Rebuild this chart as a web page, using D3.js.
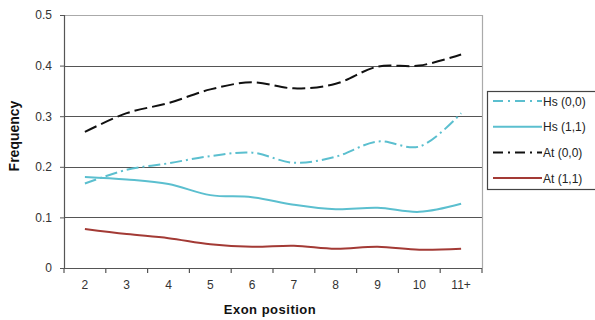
<!DOCTYPE html>
<html><head><meta charset="utf-8">
<script src="https://cdn.jsdelivr.net/npm/d3@7"></script>
<style>body{margin:0;background:#fff;}svg{display:block;font-family:"Liberation Sans",Arial,sans-serif;}</style>
</head><body><svg id="c" width="595" height="320"></svg>
<script>
const categories = ["2","3","4","5","6","7","8","9","10","11+"];
const yTicks = [0, 0.1, 0.2, 0.3, 0.4, 0.5];
const yTickLabels = ["0","0.1","0.2","0.3","0.4","0.5"];
const seriesNames = ["Hs (0,0)","Hs (1,1)","At (0,0)","At (1,1)"];
const hs00 = [0.167,0.194,0.207,0.221,0.228,0.208,0.220,0.250,0.240,0.306];
const hs11 = [0.180,0.175,0.166,0.144,0.140,0.125,0.116,0.119,0.111,0.127];
const at00 = [0.269,0.306,0.326,0.353,0.367,0.355,0.364,0.398,0.400,0.422];
const at11 = [0.077,0.067,0.059,0.047,0.042,0.044,0.038,0.042,0.036,0.038];
const colors = ["#5bbfcf","#5bbfcf","#111111","#a33a35"];
const dashes = ["12,4,2,4", null, "13,5", null];

const svg = d3.select("#c");
const L=64,R=482,T=15,B=268;
const x = d3.scaleBand().domain(categories).range([L,R]);
const y = d3.scaleLinear().domain([0,0.5]).range([B,T]);

// gridlines
svg.append("g").selectAll("line").data(yTicks.slice(1,5)).join("line")
  .attr("x1",L).attr("x2",R).attr("y1",d=>Math.round(y(d))+0.5).attr("y2",d=>Math.round(y(d))+0.5)
  .attr("stroke","#555").attr("stroke-width",1.2);
// plot frame top/right
svg.append("path").attr("d",`M${L},${T+0.5}H${R+0.5}V${B}`).attr("fill","none").attr("stroke","#aaa").attr("stroke-width",1.2);

// y axis
const ya = svg.append("g").attr("transform",`translate(${L},0)`)
  .call(d3.axisLeft(y).tickValues(yTicks).tickFormat((d,i)=>yTickLabels[i]).tickSize(4).tickPadding(8));
ya.select(".domain").attr("stroke","#555").attr("stroke-width",1.2);
ya.selectAll(".tick line").attr("stroke","#555");
ya.selectAll("text").attr("font-size",12).attr("fill","#333").attr("font-family","Liberation Sans, Arial, sans-serif");

// x axis
const xa = svg.append("g").attr("transform",`translate(0,${B})`)
  .call(d3.axisBottom(x).tickSize(0).tickPadding(12));
xa.select(".domain").attr("stroke","#555").attr("stroke-width",1.2).attr("d",`M${L},0.5H${R}`);
xa.selectAll("text").attr("font-size",12).attr("fill","#333").attr("font-family","Liberation Sans, Arial, sans-serif");
// x boundary ticks
const bounds = categories.map(c=>x(c)).concat([R]);
svg.append("g").selectAll("line").data(bounds).join("line")
  .attr("x1",d=>d).attr("x2",d=>d).attr("y1",B).attr("y2",B+5).attr("stroke","#555").attr("stroke-width",1.2);

// lines
const data = [hs00,hs11,at00,at11];
const line = d3.line().x((d,i)=>x(categories[i])+x.bandwidth()/2).y(d=>y(d)).curve(d3.curveCatmullRom.alpha(0.5));
data.forEach((s,k)=>{
  const p = svg.append("path").attr("d",line(s)).attr("fill","none")
    .attr("stroke",colors[k]).attr("stroke-width",2);
  if(dashes[k]) p.attr("stroke-dasharray",dashes[k]);
});

// axis titles
svg.append("text").attr("transform","translate(19,136) rotate(-90)").attr("text-anchor","middle")
  .attr("font-size",14).attr("font-weight","bold").attr("fill","#111").text("Frequency");
svg.append("text").attr("x",270).attr("y",314).attr("text-anchor","middle")
  .attr("font-size",13).attr("font-weight","bold").attr("fill","#111").attr("letter-spacing",0.5).text("Exon position");

// legend
const lg = svg.append("g");
lg.append("rect").attr("x",487.5).attr("y",91.5).attr("width",120).attr("height",98)
  .attr("fill","#fff").attr("stroke","#444").attr("stroke-width",1.2);
const legDash = ["10,5,2,5", null, "10,5,2,5", null];
seriesNames.forEach((n,k)=>{
  const yy = 101 + k*25.7;
  const l = lg.append("line").attr("x1",493).attr("x2",542).attr("y1",yy).attr("y2",yy)
    .attr("stroke",colors[k]).attr("stroke-width",2);
  if(legDash[k]) l.attr("stroke-dasharray",legDash[k]);
  lg.append("text").attr("x",543).attr("y",yy+4.5).attr("font-size",12).attr("fill","#222").text(n);
});
</script></body></html>
